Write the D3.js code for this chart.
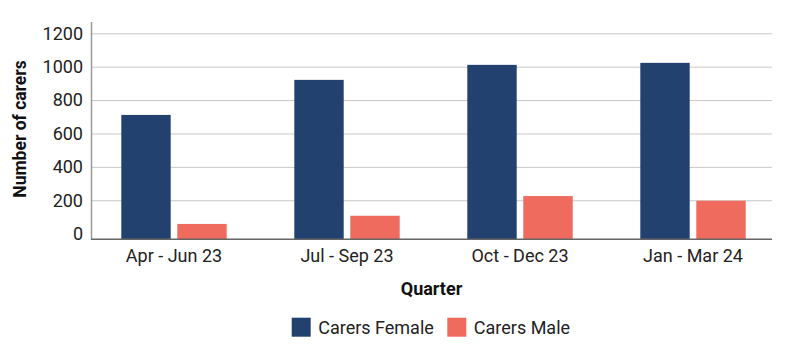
<!DOCTYPE html>
<html>
<head>
<meta charset="utf-8">
<script src="https://cdn.jsdelivr.net/npm/d3@7"></script>
<style>
  html, body { margin: 0; padding: 0; background: #fff; }
  text { font-family: Roboto, "Noto Sans", sans-serif; }
</style>
</head>
<body>
<svg id="chart" width="800" height="350"></svg>
<script>
const categories = ["Apr - Jun 23", "Jul - Sep 23", "Oct - Dec 23", "Jan - Mar 24"];
const seriesNames = ["Carers Female", "Carers Male"];
const femaleValues = [711, 921, 1011, 1023];
const maleValues = [58, 107, 225, 197];
const yTicks = [0, 200, 400, 600, 800, 1000, 1200];
const colors = ["#23416f", "#ee6b5e"];

const svg = d3.select("#chart");
const mLeft = 91, mRight = 772, mTop = 22, mBottom = 239.3;

const y = d3.scaleLinear().domain([-34, 1200]).range([mBottom, 33.3]);
const x0 = d3.scaleBand().domain(categories).range([87.5, 779.5]).padding(0);
const x1 = d3.scaleBand().domain(seriesNames).range([33.8, 139.2]).paddingInner(0.118).paddingOuter(0);

const data = categories.map((c, i) => ({ cat: c, vals: [femaleValues[i], maleValues[i]] }));

// gridlines
svg.append("g").selectAll("line").data(yTicks.filter(t => t > 0)).join("line")
  .attr("x1", mLeft).attr("x2", mRight)
  .attr("y1", d => y(d) + 0.5).attr("y2", d => y(d) + 0.5)
  .attr("stroke", "#c8c8c8").attr("stroke-width", 1);

// bars
const groups = svg.append("g").selectAll("g").data(data).join("g")
  .attr("transform", d => `translate(${x0(d.cat)},0)`);
groups.selectAll("rect").data(d => d.vals.map((v, j) => ({ name: seriesNames[j], v, j }))).join("rect")
  .attr("x", d => x1(d.name))
  .attr("width", x1.bandwidth())
  .attr("y", d => y(d.v))
  .attr("height", d => mBottom - y(d.v))
  .attr("fill", d => colors[d.j]);

// y axis
const yAxis = d3.axisLeft(y).tickValues(yTicks).tickFormat(d3.format("d")).tickSize(0).tickPadding(8);
const ga = svg.append("g").attr("transform", `translate(${mLeft},0)`).call(yAxis);
ga.select(".domain").remove();
ga.selectAll("text").attr("font-size", 18).attr("fill", "#222").style("font-family", "Roboto");
svg.append("line").attr("x1", mLeft + 0.5).attr("x2", mLeft + 0.5).attr("y1", mTop).attr("y2", mBottom)
  .attr("stroke", "#999").attr("stroke-width", 1.5);

// x axis
const xAxis = d3.axisBottom(x0).tickSize(0).tickPadding(10);
const gx = svg.append("g").attr("transform", `translate(0,${mBottom})`).call(xAxis);
gx.select(".domain").remove();
gx.selectAll("text").attr("font-size", 18).attr("fill", "#222").style("font-family", "Roboto");
svg.append("line").attr("x1", mLeft).attr("x2", mRight).attr("y1", mBottom).attr("y2", mBottom)
  .attr("stroke", "#666").attr("stroke-width", 1.5);

// axis titles
svg.append("text").attr("transform", "translate(26,129) rotate(-90)")
  .attr("text-anchor", "middle").attr("font-size", 17.5).attr("font-weight", "bold")
  .attr("fill", "#111").text("Number of carers");
svg.append("text").attr("x", (mLeft + mRight) / 2).attr("y", 295)
  .attr("text-anchor", "middle").attr("font-size", 18).attr("font-weight", "bold")
  .attr("fill", "#111").text("Quarter");

// legend
const legend = svg.append("g");
const legX = [291.7, 447.3];
seriesNames.forEach((n, i) => {
  legend.append("rect").attr("x", legX[i]).attr("y", 317.7).attr("width", 19).attr("height", 19).attr("fill", colors[i]);
  legend.append("text").attr("x", legX[i] + 26.5).attr("y", 334).attr("font-size", 18)
    .attr("fill", "#222").text(n);
});
</script>
</body>
</html>
